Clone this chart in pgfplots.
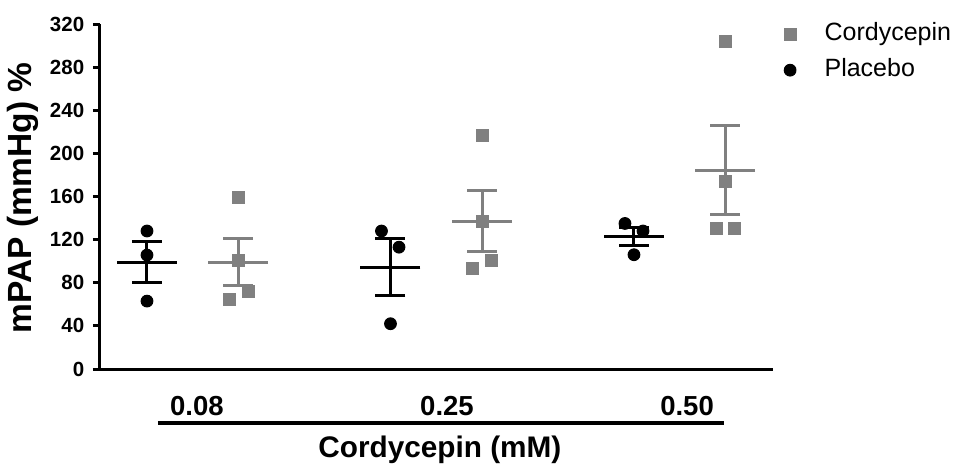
\documentclass[border=0pt]{standalone}
\usepackage{fontspec}
\setmainfont{Liberation Sans}
\usepackage{pgfplots}
\pgfplotsset{compat=1.18}
\definecolor{cgray}{RGB}{128,128,128}
\begin{document}
\begin{tikzpicture}
\begin{axis}[
  scale only axis, width=269.2pt, height=138pt,
  xmin=-0.193, xmax=2.571, ymin=0, ymax=320,
  axis x line*=bottom, axis y line*=left,
  axis line style={line width=1.2pt},
  ytick={0,40,...,320},
  xtick={0.205,1.232,2.218},
  xticklabels={0.08,0.25,0.50},
  major x tick style={draw=none},
  tick align=outside, major tick length=2.8pt,
  major tick style={line width=1.2pt, black},
  /pgf/number format/assume math mode=true,
  yticklabel style={font=\fontsize{8.2}{9}\selectfont\bfseries},
  xticklabel style={font=\fontsize{11}{12}\selectfont\bfseries, anchor=base, yshift=-15.6pt},
  ylabel={mPAP (mmHg) \%},
  ylabel style={font=\fontsize{13.4}{15}\selectfont\bfseries, at={(axis description cs:-0.114,0.496)}, anchor=center},
  clip=false,
  legend style={at={(1.015,1.006)}, anchor=north west, draw=none, fill=none,
    inner sep=0pt, font=\fontsize{10}{12}\selectfont, row sep=5pt,
    nodes={inner sep=0pt, text height=7.2pt, text depth=2.2pt}},
  legend cell align=left,
  legend image code/.code={\draw[#1] plot coordinates {(0pt,0pt)}; \path (-2.4pt,0pt) (13.6pt,0pt);},
]
% individual points
\addplot[only marks, mark=square*, mark size=2.4pt, cgray] coordinates {
  (0.374,159) (0.374,101) (0.415,72) (0.337,64.6)
  (1.376,217) (1.376,137) (1.413,101) (1.337,93.4)
  (2.374,304) (2.374,174) (2.337,130) (2.411,130)
};
\addlegendentry{Cordycepin}
\addplot[only marks, mark=*, mark size=2.35pt, black] coordinates {
  (0,128) (0,105.7) (0,63)
  (0.963,128) (1.035,113) (1.0,42)
  (1.963,135) (2.037,128) (2.0,106)
};
\addlegendentry{Placebo}
% mean +- SEM
\addplot[forget plot, only marks, mark=-, mark size=12pt, mark options={line width=1.2pt}, black,
  error bars/.cd, y dir=both, y explicit,
  error bar style={line width=1.2pt, black},
  error mark options={rotate=90, black, mark size=6pt, line width=1.2pt}]
  coordinates {(0,98.9) +- (0,19.1) (1.0,94.3) +- (0,26.5) (2.0,123) +- (0,8.7)};
\addplot[forget plot, only marks, mark=-, mark size=12pt, mark options={line width=1.2pt}, cgray,
  error bars/.cd, y dir=both, y explicit,
  error bar style={line width=1.2pt, cgray},
  error mark options={rotate=90, cgray, mark size=6pt, line width=1.2pt}]
  coordinates {(0.374,99.2) +- (0,21.4) (1.376,137.1) +- (0,28.3) (2.374,184.5) +- (0,41.2)};
\draw[line width=1.6pt] (axis cs:0.045,-50.1) -- (axis cs:2.37,-50.1);
\node[anchor=base, font=\fontsize{11.9}{13}\selectfont\bfseries] at (axis cs:1.203,-82) {Cordycepin (mM)};
\end{axis}
\pgfresetboundingbox
\path[use as bounding box] (-40pt,-37.6pt) rectangle (342pt,147.6pt);
\end{tikzpicture}
\end{document}
